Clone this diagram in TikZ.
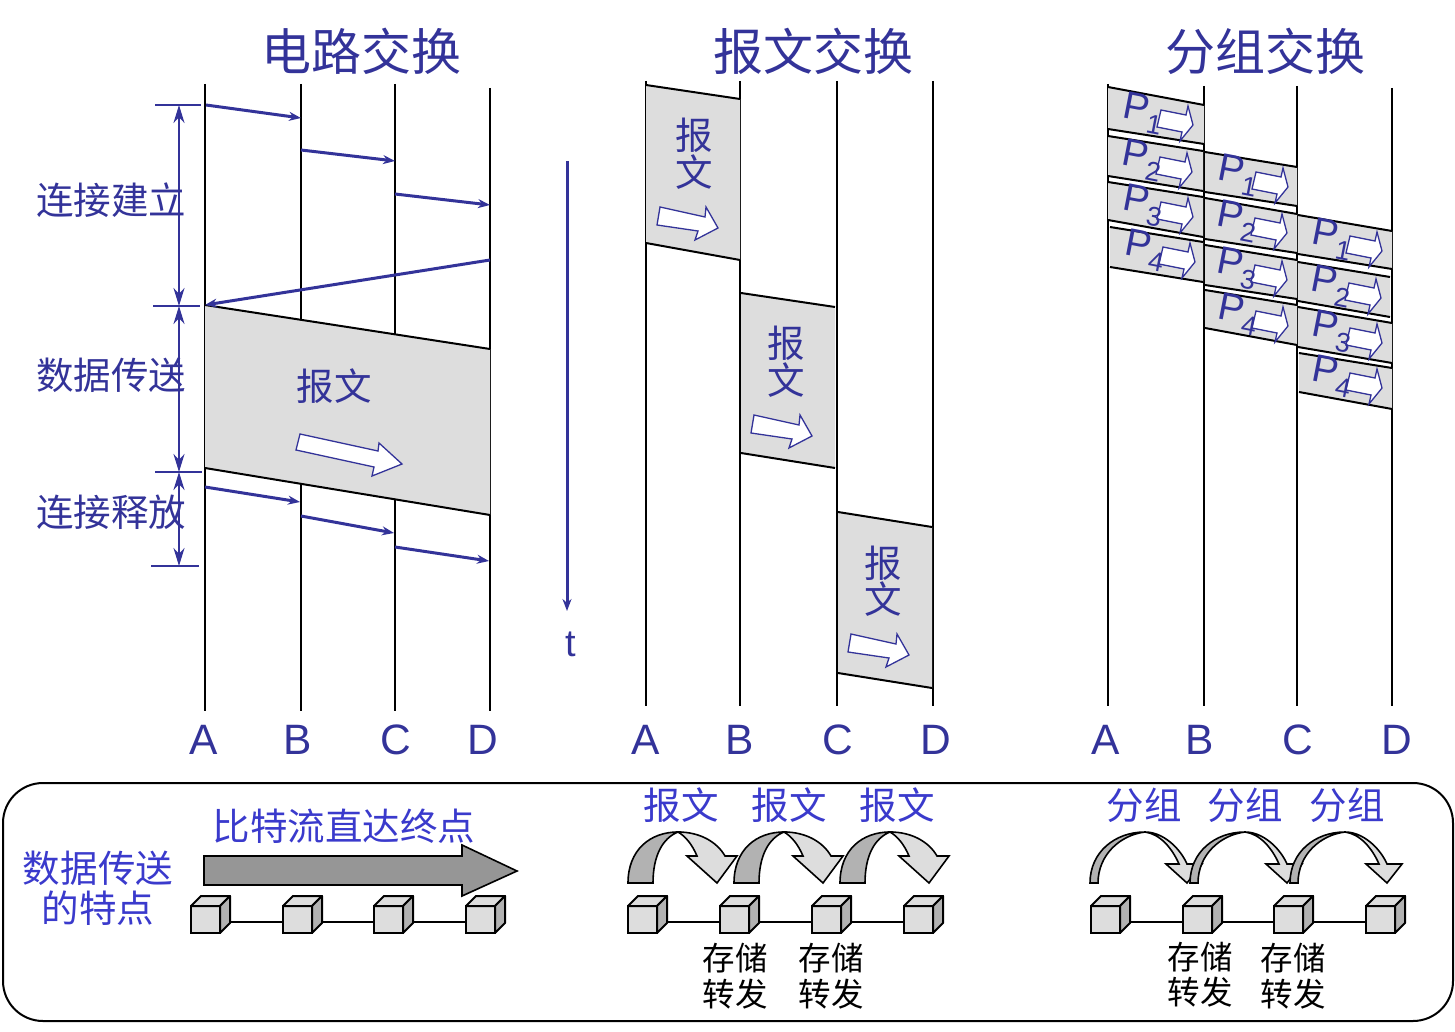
\documentclass[tikz,border=0pt]{standalone}
\usepackage{fontspec}
\setmainfont{Liberation Sans}
\newfontfamily\cjk{Noto Sans CJK SC}
\usetikzlibrary{arrows.meta}
\definecolor{nblue}{HTML}{333399}
\definecolor{lblue}{HTML}{3A3ACC}
\definecolor{pgray}{HTML}{DDDDDD}
\definecolor{dgray}{HTML}{B2B2B2}
\definecolor{bgray}{HTML}{969696}
\tikzset{
  lifeline/.style={line width=2pt,black},
  edgeline/.style={line width=2pt,black},
  blockfill/.style={fill=pgray,draw=none},
  msg/.style={line width=3pt,nblue,-{Stealth[length=12pt,width=9pt]}},
  timearrow/.style={line width=3pt,nblue,-{Stealth[length=12pt,width=9pt]}},
  dimarrow/.style={line width=2.4pt,nblue,{Stealth[length=18pt,width=11pt]}-{Stealth[length=18pt,width=11pt]}},
  dimtick/.style={line width=2pt,nblue},
  whitearrow/.style={fill=white,draw=nblue,line width=1.3pt,line join=miter},
  title/.style={text=nblue,font=\cjk\fontsize{50}{50}\selectfont,inner sep=0pt},
  sidelabel/.style={text=nblue,font=\cjk\fontsize{37.5}{37.5}\selectfont,inner sep=0pt},
  bottomlabel/.style={text=lblue,font=\cjk\fontsize{37.5}{37.5}\selectfont,inner sep=0pt},
  blacklabel/.style={text=black,font=\cjk\fontsize{32.5}{32.5}\selectfont,inner sep=0pt},
  hostlabel/.style={text=nblue,font=\fontsize{42.5}{42.5}\selectfont,inner sep=0pt},
  plabel/.style={text=nblue,font=\fontsize{39}{39}\selectfont,inner sep=0pt,rotate=-11},
  psub/.style={text=nblue,font=\fontsize{27}{27}\selectfont,inner sep=0pt,rotate=-11},
  cubefront/.style={draw=black,fill=pgray,line width=2pt,minimum width=29pt,minimum height=27pt,inner sep=0pt,outer sep=0pt},
  cubeside/.style={draw=black,line width=2pt,line join=round},
  hop/.style={draw=black,line width=1.6pt,line join=miter},
  link/.style={line width=2pt,black},
}
% lifeline: name, x, top, bottom
\newcommand{\lifel}[4]{\coordinate (#1t) at (#2,#3);\coordinate (#1b) at (#2,#4);\draw[lifeline] (#1t) -- (#1b);}
% parallelogram block: xl xr ytl ytr ybl ybr
\newcommand{\blk}[6]{\fill[blockfill] (#1,#3) -- (#2,#4) -- (#2,#6) -- (#1,#5) -- cycle;
  \draw[edgeline] (#1,#3) -- (#2,#4);\draw[edgeline] (#1,#5) -- (#2,#6);}
% message connector: style, name, start, end
\newcommand{\conn}[4]{\coordinate (#2s) at (#3);\coordinate (#2e) at (#4);\draw[#1] (#2s) -- (#2e);}
% small white arrow, given tip
\newcommand{\pktarrow}[2]{\begin{scope}[shift={(#1,#2)}]
  \draw[whitearrow] (-32,-15) -- (-7,-10) -- (-5,-19) -- (0,0) -- (-13,16) -- (-11,7) -- (-36,2) -- cycle;\end{scope}}
% packet: name, tip x, tip y, index
\newcommand{\pkt}[4]{\pktarrow{#2}{#3}
  \node[plabel] (#1p) at (#2-56,#3-18) {P};
  \node[psub] (#1n) at (#2-39,#3) {#4};}
% message white arrow, given top-left tail
\newcommand{\msgarrow}[2]{\begin{scope}[shift={(#1,#2)}]
  \draw[whitearrow] (0,0) -- (45,10) -- (46,0) -- (58,21) -- (35,33) -- (38,24) -- (-3,18) -- cycle;\end{scope}}
% cube: name, front left x
\newcommand{\cube}[2]{\node[cubefront,anchor=north west] (#1) at (#2,906) {};
  \draw[cubeside,fill=pgray] (#2,906) -- (#2+10,896) -- (#2+39,896) -- (#2+29,906) -- cycle;
  \draw[cubeside,fill=dgray] (#2+29,906) -- (#2+39,896) -- (#2+39,923) -- (#2+29,933) -- cycle;}
% wide hop arrow
\newcommand{\widehop}[1]{\begin{scope}[shift={(#1,0)}]
  \draw[hop,fill=dgray] (0,883) .. controls (0,850) and (22,832) .. (50,832) .. controls (35,838) and (25,855) .. (25,883) -- cycle;
  \draw[hop,fill=pgray] (50,832) .. controls (72,832) and (89,842) .. (97,856) -- (109,856) -- (89,883) -- (59,856) -- (69,856) .. controls (64,844) and (57,836) .. (50,832) -- cycle;
\end{scope}}
% thin hop arrow
\newcommand{\thinhop}[1]{\begin{scope}[shift={(#1,0)}]
  \draw[hop,fill=dgray] (1090,883) .. controls (1090,852) and (1115,832) .. (1145,832) .. controls (1120,835) and (1098,855) .. (1098,883) -- cycle;
  \draw[hop,fill=pgray] (1145,832) .. controls (1163,832) and (1180,848) .. (1187,864) -- (1202,864) -- (1187,883) -- (1166,864) -- (1179,864) .. controls (1172,848) and (1160,834) .. (1145,832) -- cycle;
\end{scope}}
\begin{document}
\begin{tikzpicture}[x=1pt,y=-1pt]
\useasboundingbox (0,0) rectangle (1455,1032);
% titles
\node[title] (t1) at (361,51) {电路交换};
\node[title] (t2) at (813,51) {报文交换};
\node[title] (t3) at (1265,51) {分组交换};
% --- circuit switching
\lifel{a}{205}{84}{711}
\lifel{b}{301}{84}{711}
\lifel{c}{395}{84}{711}
\lifel{d}{490}{88}{711}
\blk{205}{490}{305}{349}{468}{515}
\conn{msg}{m1}{206,105}{301,118}
\conn{msg}{m2}{301,150}{395,161}
\conn{msg}{m3}{395,194}{490,205}
\conn{msg}{m4}{490,260}{205,305}
\conn{msg}{m5}{205,487}{300,502}
\conn{msg}{m6}{301,516}{394,533}
\conn{msg}{m7}{395,547}{489,561}
\conn{dimtick}{k1}{155,105}{201,105}
\conn{dimtick}{k2}{153,306}{200,306}
\conn{dimtick}{k3}{155,472}{202,472}
\conn{dimtick}{k4}{151,566}{199,566}
\conn{dimarrow}{v1}{179,105}{179,306}
\conn{dimarrow}{v2}{179,306}{179,472}
\conn{dimarrow}{v3}{179,472}{179,566}
\node[sidelabel] (s1) at (111,200) {连接建立};
\node[sidelabel] (s2) at (111,375) {数据传送};
\node[sidelabel] (s3) at (111,512) {连接释放};
\node[sidelabel] (msgtext) at (334,386) {报文};
\draw[whitearrow] (300,434) -- (378,451) -- (379,443) -- (402,464) -- (372,476) -- (374,467) -- (296,450) -- cycle;
% time axis
\conn{timearrow}{tt}{567,161}{567,611}
\node[text=nblue,font=\fontsize{38}{38}\selectfont,inner sep=0pt] (tlabel) at (571,644) {t};
% host labels
\node[hostlabel] (h1) at (204,740) {A};
\node[hostlabel] (h2) at (298,740) {B};
\node[hostlabel] (h3) at (396,740) {C};
\node[hostlabel] (h4) at (483,740) {D};
\node[hostlabel] (h5) at (646,740) {A};
\node[hostlabel] (h6) at (740,740) {B};
\node[hostlabel] (h7) at (838,740) {C};
\node[hostlabel] (h8) at (936,740) {D};
\node[hostlabel] (h9) at (1106,740) {A};
\node[hostlabel] (h10) at (1200,740) {B};
\node[hostlabel] (h11) at (1298,740) {C};
\node[hostlabel] (h12) at (1397,740) {D};
% --- message switching
\lifel{e}{646}{81}{706}
\lifel{f}{740}{81}{706}
\lifel{g}{837}{81}{706}
\lifel{h}{933}{81}{706}
\blk{646}{740}{85}{99}{243}{260}
\blk{741}{835}{293}{307}{453}{468}
\blk{838}{932}{512}{527}{673}{688}
\node[sidelabel] (u1) at (694,135) {报};
\node[sidelabel] (u2) at (694,172) {文};
\node[sidelabel] (u3) at (786,343) {报};
\node[sidelabel] (u4) at (786,380) {文};
\node[sidelabel] (u5) at (883,563) {报};
\node[sidelabel] (u6) at (883,599) {文};
\msgarrow{660}{207}
\msgarrow{754}{415}
\msgarrow{851}{634}
% --- packet switching
\lifel{i}{1108}{84}{706}
\lifel{j}{1204}{86}{706}
\lifel{k}{1297}{86}{706}
\lifel{l}{1392}{88}{706}
\blk{1108}{1204}{87}{105}{129}{144}
\blk{1108}{1203}{136}{151}{176}{191}
\blk{1108}{1203}{182}{197}{220}{237}
\blk{1110}{1203}{227}{242}{267}{282}
\blk{1205}{1297}{152}{167}{192}{206}
\blk{1205}{1297}{198}{214}{239}{253}
\blk{1205}{1297}{245}{260}{285}{299}
\blk{1205}{1297}{290}{305}{328}{345}
\blk{1298}{1392}{215}{231}{254}{269}
\blk{1298}{1390}{262}{277}{301}{317}
\blk{1298}{1392}{307}{323}{347}{363}
\blk{1299}{1392}{353}{368}{392}{409}
\pkt{a1}{1193}{125}{1}
\pkt{a2}{1192}{172}{2}
\pkt{a3}{1193}{217}{3}
\pkt{a4}{1195}{262}{4}
\pkt{b1}{1288}{187}{1}
\pkt{b2}{1287}{233}{2}
\pkt{b3}{1287}{280}{3}
\pkt{b4}{1288}{326}{4}
\pkt{c1}{1382}{251}{1}
\pkt{c2}{1381}{298}{2}
\pkt{c3}{1382}{343}{3}
\pkt{c4}{1382}{388}{4}
% --- bottom panel
\draw[line width=2pt,black,rounded corners=40pt] (3,783) rectangle (1453,1021);
\node[bottomlabel] (q1) at (98,868) {数据传送};
\node[bottomlabel] (q2) at (98,908) {的特点};
\node[bottomlabel] (q3) at (344,826) {比特流直达终点};
\draw[fill=bgray,draw=black,line width=1.6pt] (204,856) -- (462,856) -- (462,845) -- (517,871) -- (462,896) -- (462,885) -- (204,885) -- cycle;
% routers and links
\cube{r1}{191}\cube{r2}{283}\cube{r3}{374}\cube{r4}{466}
\cube{r5}{628}\cube{r6}{720}\cube{r7}{812}\cube{r8}{904}
\cube{r9}{1091}\cube{r10}{1183}\cube{r11}{1274}\cube{r12}{1366}
\tikzset{linkshift/.style={yshift=-2pt}}
\draw[link] ([xshift=10pt,yshift=-2pt]r1.east) -- ([yshift=-2pt]r2.west);
\draw[link] ([xshift=10pt,yshift=-2pt]r2.east) -- ([yshift=-2pt]r3.west);
\draw[link] ([xshift=10pt,yshift=-2pt]r3.east) -- ([yshift=-2pt]r4.west);
\draw[link] ([xshift=10pt,yshift=-2pt]r5.east) -- ([yshift=-2pt]r6.west);
\draw[link] ([xshift=10pt,yshift=-2pt]r6.east) -- ([yshift=-2pt]r7.west);
\draw[link] ([xshift=10pt,yshift=-2pt]r7.east) -- ([yshift=-2pt]r8.west);
\draw[link] ([xshift=10pt,yshift=-2pt]r9.east) -- ([yshift=-2pt]r10.west);
\draw[link] ([xshift=10pt,yshift=-2pt]r10.east) -- ([yshift=-2pt]r11.west);
\draw[link] ([xshift=10pt,yshift=-2pt]r11.east) -- ([yshift=-2pt]r12.west);
\widehop{628}\widehop{734}\widehop{840}
\thinhop{0}\thinhop{100}\thinhop{200}
\node[bottomlabel] (w1) at (681,805) {报文};
\node[bottomlabel] (w2) at (789,805) {报文};
\node[bottomlabel] (w3) at (897,805) {报文};
\node[bottomlabel] (w4) at (1144,805) {分组};
\node[bottomlabel] (w5) at (1245,805) {分组};
\node[bottomlabel] (w6) at (1347,805) {分组};
\node[blacklabel] (x1) at (735,958) {存储};
\node[blacklabel] (x2) at (735,994) {转发};
\node[blacklabel] (x3) at (831,958) {存储};
\node[blacklabel] (x4) at (831,994) {转发};
\node[blacklabel] (x5) at (1200,957) {存储};
\node[blacklabel] (x6) at (1200,992) {转发};
\node[blacklabel] (x7) at (1293,958) {存储};
\node[blacklabel] (x8) at (1293,994) {转发};
\end{tikzpicture}
\end{document}
